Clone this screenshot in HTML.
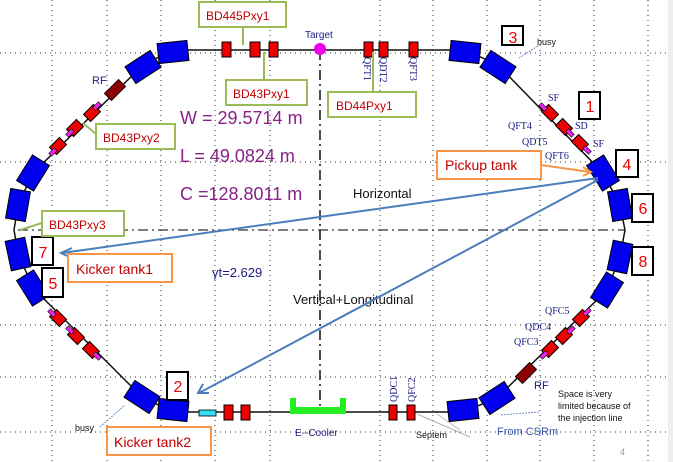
<!DOCTYPE html>
<html><head><meta charset="utf-8"><style>
html,body{margin:0;padding:0;background:#fff;}
svg{display:block;font-family:"Liberation Sans",sans-serif;}
</style></head><body>
<svg width="673" height="462" viewBox="0 0 673 462" xmlns="http://www.w3.org/2000/svg">
<rect x="0" y="0" width="673" height="462" fill="#fff"/>
<rect x="668" y="0" width="5" height="462" fill="#eee"/>
<!-- grid -->
<g stroke="#333" stroke-width="1" stroke-dasharray="1,4">
<line x1="52" y1="0" x2="52" y2="462"/><line x1="107" y1="0" x2="107" y2="462"/><line x1="161" y1="0" x2="161" y2="462"/><line x1="215" y1="0" x2="215" y2="462"/><line x1="270" y1="0" x2="270" y2="462"/><line x1="380" y1="0" x2="380" y2="462"/><line x1="433" y1="0" x2="433" y2="462"/><line x1="487" y1="0" x2="487" y2="462"/><line x1="540" y1="0" x2="540" y2="462"/><line x1="594" y1="0" x2="594" y2="462"/><line x1="648" y1="0" x2="648" y2="462"/>
<line x1="0" y1="53" x2="668" y2="53"/><line x1="0" y1="162" x2="668" y2="162"/><line x1="0" y1="325" x2="668" y2="325"/><line x1="0" y1="377" x2="668" y2="377"/><line x1="0" y1="432" x2="668" y2="432"/>
</g>
<!-- center axes -->
<line x1="18" y1="230" x2="625" y2="230" stroke="#333" stroke-width="1.2" stroke-dasharray="10,4,2,4"/>
<line x1="320" y1="50" x2="320" y2="412" stroke="#111" stroke-width="1.5" stroke-dasharray="10,4,2,4"/>
<!-- ring -->
<polygon points="143,65 173,50 465,50 498,65 603,173 620,205 625,230 620,257 607,290 497,398 463,412 173,412 142,397 33,288 18,253 14,230 18,205 33,173" fill="none" stroke="#111" stroke-width="1.5"/>
<!-- dipoles -->
<g fill="#0000ee" stroke="#000" stroke-width="1">
<rect x="-15" y="-10" width="30" height="20" transform="translate(173,52) rotate(-6)"/>
<rect x="-15" y="-10" width="30" height="20" transform="translate(143,67) rotate(-33)"/>
<rect x="-15" y="-10" width="30" height="20" transform="translate(33,173) rotate(-58)"/>
<rect x="-15" y="-10" width="30" height="20" transform="translate(18,205) rotate(-80)"/>
<rect x="-15" y="-10" width="30" height="20" transform="translate(18,254) rotate(78)"/>
<rect x="-15" y="-10" width="30" height="20" transform="translate(33,288) rotate(58)"/>
<rect x="-15" y="-10" width="30" height="20" transform="translate(142,397) rotate(33)"/>
<rect x="-15" y="-10" width="30" height="20" transform="translate(173,410) rotate(6)"/>
<rect x="-15" y="-10" width="30" height="20" transform="translate(465,52) rotate(6)"/>
<rect x="-15" y="-10" width="30" height="20" transform="translate(498,67) rotate(33)"/>
<rect x="-15" y="-10" width="30" height="20" transform="translate(603,173) rotate(58)"/>
<rect x="-15" y="-10" width="30" height="20" transform="translate(620,205) rotate(80)"/>
<rect x="-15" y="-10" width="30" height="20" transform="translate(620,257) rotate(-78)"/>
<rect x="-15" y="-10" width="30" height="20" transform="translate(607,290) rotate(-58)"/>
<rect x="-15" y="-10" width="30" height="20" transform="translate(497,398) rotate(-33)"/>
<rect x="-15" y="-10" width="30" height="20" transform="translate(463,410) rotate(-6)"/>
</g>
<!-- quads straight -->
<g fill="#ee0000" stroke="#000" stroke-width="1">
<rect x="222" y="42" width="9" height="15"/><rect x="250" y="42" width="10" height="15"/><rect x="269" y="42" width="9" height="15"/>
<rect x="364" y="42" width="9" height="15"/><rect x="379" y="42" width="9" height="15"/><rect x="409" y="42" width="9" height="15"/>
<rect x="224" y="405" width="9" height="15"/><rect x="241" y="405" width="9" height="15"/>
<rect x="389" y="405" width="8" height="15"/><rect x="407" y="405" width="8" height="15"/>
</g>
<rect x="199" y="410" width="17" height="6" fill="#33ddee" stroke="#000" stroke-width="0.8"/>
<!-- diagonal quads -->
<g fill="#ee0000" stroke="#000" stroke-width="1">
<rect x="-7" y="-5" width="14" height="10" transform="translate(92,113) rotate(-45)"/>
<rect x="-7" y="-5" width="14" height="10" transform="translate(75,128) rotate(-45)"/>
<rect x="-7" y="-5" width="14" height="10" transform="translate(58,146) rotate(-45)"/>
<rect x="-7" y="-5" width="14" height="10" transform="translate(550,113) rotate(45)"/>
<rect x="-7" y="-5" width="14" height="10" transform="translate(564,127) rotate(45)"/>
<rect x="-7" y="-5" width="14" height="10" transform="translate(580,143) rotate(45)"/>
<rect x="-7" y="-5" width="14" height="10" transform="translate(58,318) rotate(45)"/>
<rect x="-7" y="-5" width="14" height="10" transform="translate(76,336) rotate(45)"/>
<rect x="-7" y="-5" width="14" height="10" transform="translate(91,350) rotate(45)"/>
<rect x="-7" y="-5" width="14" height="10" transform="translate(581,318) rotate(-45)"/>
<rect x="-7" y="-5" width="14" height="10" transform="translate(564,336) rotate(-45)"/>
<rect x="-7" y="-5" width="14" height="10" transform="translate(550,349) rotate(-45)"/>
</g>
<g fill="#8b0000" stroke="#000" stroke-width="0.8">
<rect x="-10" y="-5" width="20" height="10" transform="translate(115,90) rotate(-45)"/>
<rect x="-10" y="-5" width="20" height="10" transform="translate(526,373) rotate(-45)"/>
</g>
<g fill="#ee22ee" stroke="#000" stroke-width="0.6">
<rect x="-4" y="-2" width="8" height="4" transform="translate(97,106) rotate(-45)"/>
<rect x="-4" y="-2" width="8" height="4" transform="translate(70,133) rotate(-45)"/>
<rect x="-4" y="-2" width="8" height="4" transform="translate(53,152) rotate(-45)"/>
<rect x="-4" y="-2" width="8" height="4" transform="translate(543,107) rotate(45)"/>
<rect x="-4" y="-2" width="8" height="4" transform="translate(570,133) rotate(45)"/>
<rect x="-4" y="-2" width="8" height="4" transform="translate(587,150) rotate(45)"/>
<rect x="-4" y="-2" width="8" height="4" transform="translate(52,313) rotate(45)"/>
<rect x="-4" y="-2" width="8" height="4" transform="translate(70,330) rotate(45)"/>
<rect x="-4" y="-2" width="8" height="4" transform="translate(97,356) rotate(45)"/>
<rect x="-4" y="-2" width="8" height="4" transform="translate(587,312) rotate(-45)"/>
<rect x="-4" y="-2" width="8" height="4" transform="translate(571,330) rotate(-45)"/>
<rect x="-4" y="-2" width="8" height="4" transform="translate(544,355) rotate(-45)"/>
</g>
<!-- target -->
<circle cx="320" cy="49" r="6" fill="#ee00ee"/>
<text x="305" y="38" font-size="10" fill="#1a1a80">Target</text>
<!-- E-cooler -->
<path d="M290,398 h6 v9 h44 v-9 h6 v16 h-56 z" fill="#22ee22"/>
<text x="295" y="436" font-size="10" fill="#1a1a80">E--Cooler</text>
<!-- params -->
<g fill="#882288" font-size="18">
<text x="180" y="124">W =  29.5714 m</text>
<text x="180" y="162">L  =  49.0824 m</text>
<text x="180" y="200">C  =128.8011 m</text>
</g>
<text x="212" y="277" font-size="13" fill="#1a1a80">γt=2.629</text>
<text x="353" y="198" font-size="13" fill="#111">Horizontal</text>
<text x="293" y="304" font-size="13" fill="#111">Vertical+Longitudinal</text>
<!-- small labels -->
<g font-family="Liberation Serif,serif" font-size="10" fill="#1a1a80">
<text x="92" y="84" font-family="Liberation Sans,sans-serif" font-size="11">RF</text>
<text x="534" y="389" font-family="Liberation Sans,sans-serif" font-size="11">RF</text>
<text x="548" y="101">SF</text><text x="508" y="129">QFT4</text><text x="575" y="129">SD</text>
<text x="522" y="145">QDT5</text><text x="593" y="147">SF</text><text x="545" y="159">QFT6</text>
<text x="545" y="314">QFC5</text><text x="525" y="330">QDC4</text><text x="514" y="345">QFC3</text>
<text transform="translate(364,57) rotate(90)">QFT1</text>
<text transform="translate(380,57) rotate(90)">QDT2</text>
<text transform="translate(410,57) rotate(90)">QFT3</text>
<text transform="translate(397,402) rotate(-90)">QDC1</text>
<text transform="translate(415,402) rotate(-90)">QFC2</text>
</g>
<g font-size="9" fill="#111">
<text x="537" y="45">busy</text><text x="75" y="431">busy</text>
<text x="416" y="438">Septem</text>
<text x="558" y="397">Space is very</text><text x="558" y="409">limited because of</text><text x="558" y="421">the injection line</text>
</g>
<text x="497" y="435" font-size="11" fill="#3355aa">From CSRm</text>
<text x="620" y="455" font-size="9" fill="#999">4</text>
<g stroke="#5577bb" stroke-width="0.8" fill="none" stroke-dasharray="2,1">
<line x1="538" y1="46" x2="519" y2="58"/><line x1="100" y1="427" x2="125" y2="405"/>
<line x1="539" y1="412" x2="500" y2="415"/>
</g>
<g stroke="#999" stroke-width="0.7" fill="none"><line x1="417" y1="414" x2="470" y2="437"/><line x1="437" y1="414" x2="460" y2="430"/></g>
<!-- blue arrows -->
<g stroke="#4a7ebb" stroke-width="2" fill="none">
<line x1="598" y1="178" x2="62" y2="253"/>
<polyline points="72,248 61,253 72,258"/>
<line x1="598" y1="180" x2="199" y2="393"/>
<polyline points="203,384 198,393 209,393"/>
</g>
<!-- number boxes -->
<g fill="#fff" stroke="#000" stroke-width="2">
<rect x="502" y="26" width="21" height="19"/><rect x="579" y="92" width="21" height="27"/>
<rect x="616" y="150" width="22" height="27"/><rect x="632" y="194" width="21" height="28"/>
<rect x="632" y="247" width="21" height="28"/><rect x="32" y="237" width="21" height="28"/>
<rect x="42" y="268" width="21" height="29"/><rect x="167" y="372" width="21" height="28"/>
</g>
<g fill="#ee0000" font-size="16" text-anchor="middle">
<text x="513" y="43">3</text><text x="590" y="112">1</text><text x="627" y="170">4</text><text x="643" y="214">6</text>
<text x="643" y="267">8</text><text x="43" y="258">7</text><text x="53" y="289">5</text><text x="178" y="392">2</text>
</g>
<!-- green labels -->
<g stroke="#9bbb59" stroke-width="2" fill="none">
<line x1="243" y1="27" x2="243" y2="45"/><line x1="264" y1="80" x2="264" y2="52"/>
<line x1="96" y1="134" x2="83" y2="123"/><line x1="42" y1="223" x2="20" y2="230"/>
<line x1="373" y1="92" x2="373" y2="52"/>
</g>
<g fill="#fff" stroke="#9bbb59" stroke-width="2">
<rect x="199" y="2" width="87" height="25"/><rect x="226" y="80" width="81" height="25"/>
<rect x="96" y="124" width="79" height="25"/><rect x="42" y="211" width="82" height="25"/>
<rect x="328" y="92" width="88" height="25"/>
</g>
<g fill="#c00000" font-size="12">
<text x="206" y="20">BD445Pxy1</text><text x="233" y="98">BD43Pxy1</text>
<text x="103" y="142">BD43Pxy2</text><text x="49" y="229">BD43Pxy3</text>
<text x="336" y="110">BD44Pxy1</text>
</g>
<!-- orange labels -->
<line x1="541" y1="165" x2="590" y2="172" stroke="#f79646" stroke-width="2"/>
<polyline points="583,167 591,172 583,176" stroke="#f79646" stroke-width="2" fill="none"/>
<g fill="#fff" stroke="#f79646" stroke-width="2">
<rect x="437" y="151" width="104" height="28"/><rect x="68" y="254" width="104" height="28"/><rect x="107" y="427" width="104" height="28"/>
</g>
<g fill="#c00000" font-size="14">
<text x="445" y="170">Pickup tank</text><text x="76" y="274">Kicker tank1</text><text x="114" y="447">Kicker tank2</text>
</g>
</svg>
</body></html>
